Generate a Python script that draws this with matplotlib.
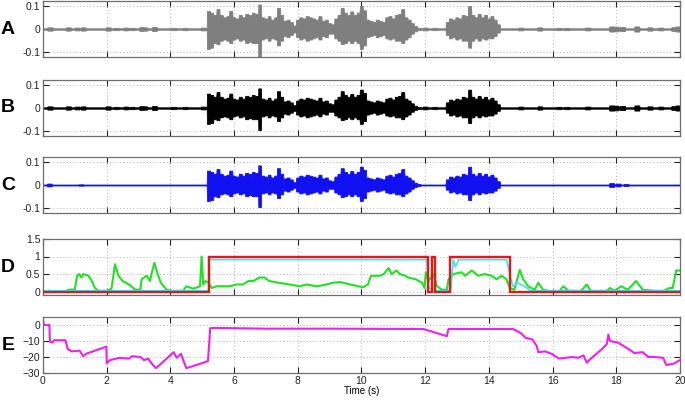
import numpy as np
import matplotlib
matplotlib.use("Agg")
import matplotlib.pyplot as plt

plt.rcParams['font.family'] = ['Liberation Sans', 'DejaVu Sans']

# ---------------- data ----------------
# speech envelope, segment 1 (0.1 s steps from 5.2 s), panel A units
seg1_start = 5.2
seg1_up = [0.077, 0.07, 0.06, 0.085, 0.06, 0.05, 0.055, 0.077, 0.05, 0.045,
           0.06, 0.05, 0.065, 0.06, 0.07, 0.065, 0.105, 0.05, 0.045, 0.055,
           0.04, 0.05, 0.09, 0.06, 0.035, 0.04, 0.03, 0.015, 0.04, 0.05,
           0.045, 0.055, 0.05, 0.045, 0.04, 0.055, 0.035, 0.04, 0.025, 0.02,
           0.045, 0.06, 0.09, 0.07, 0.06, 0.075, 0.06, 0.07, 0.098, 0.08,
           0.04, 0.035, 0.03, 0.04, 0.035, 0.03, 0.05, 0.055, 0.045, 0.06,
           0.065, 0.085, 0.05, 0.04, 0.025, 0.012, 0.005]
seg1_lo = [0.085, 0.08, 0.06, 0.065, 0.05, 0.045, 0.05, 0.06, 0.045, 0.04,
           0.05, 0.045, 0.06, 0.055, 0.06, 0.06, 0.118, 0.045, 0.04, 0.05,
           0.04, 0.045, 0.07, 0.05, 0.03, 0.035, 0.025, 0.015, 0.035, 0.045,
           0.04, 0.05, 0.045, 0.04, 0.035, 0.045, 0.03, 0.035, 0.02, 0.02,
           0.04, 0.05, 0.065, 0.06, 0.05, 0.06, 0.05, 0.06, 0.085, 0.07,
           0.035, 0.03, 0.025, 0.035, 0.03, 0.025, 0.04, 0.045, 0.04, 0.05,
           0.05, 0.06, 0.045, 0.035, 0.02, 0.01, 0.005]
# speech envelope, segment 2 (0.1 s steps from 12.7 s)
seg2_start = 12.7
seg2_up = [0.03, 0.045, 0.04, 0.05, 0.045, 0.06, 0.055, 0.098, 0.06, 0.05,
           0.065, 0.05, 0.06, 0.045, 0.055, 0.04, 0.02]
seg2_lo = [0.025, 0.04, 0.035, 0.045, 0.04, 0.05, 0.05, 0.08, 0.05, 0.04,
           0.05, 0.04, 0.045, 0.04, 0.04, 0.03, 0.015]

# background noise blobs (time s, amplitude)
blob_t_AB = [0.22, 0.79, 1.07, 1.26, 2.05, 2.3, 2.6, 2.8, 3.1, 3.2, 3.5, 4.1,
             4.46, 5.03, 12.0, 12.3, 15.0, 15.6, 16.2, 16.45, 17.1, 17.85,
             18.0, 18.2, 18.65, 19.05, 19.4, 19.8, 19.95]
blob_a_AB = [0.007, 0.007, 0.006, 0.007, 0.007, 0.005, 0.006, 0.005, 0.008,
             0.007, 0.009, 0.005, 0.005, 0.006, 0.006, 0.005, 0.006, 0.007,
             0.005, 0.005, 0.006, 0.011, 0.01, 0.009, 0.011, 0.007, 0.006,
             0.008, 0.011]
blob_t_C = [0.2, 1.2, 17.85, 18.05, 18.3]
blob_a_C = [0.006, 0.003, 0.008, 0.006, 0.004]

panel_gain = {'A': 1.0, 'B': 0.8, 'C': 0.8}
panel_base = {'A': 0.003, 'B': 0.003, 'C': 0.002}
panel_color = {'A': '#7f7f7f', 'B': '#000000', 'C': '#1010f0'}

# panel D
red_edges = [0, 5.2, 12.1, 12.2, 12.3, 12.78, 14.66, 20]
red_states = [0, 1, 0, 1, 0, 1, 0]
cyan_t = [0, 5.2, 5.2, 12.05, 12.12, 12.3, 12.8, 12.88, 12.95, 13.05, 14.55,
          14.75, 14.9, 15.2, 15.3, 20]
cyan_v = [0.02, 0.02, 0.91, 0.91, 0.1, 0.02, 0.02, 0.91, 0.7, 0.91, 0.91,
          0.15, 0.25, 0.1, 0.02, 0.02]
green_t = [0.0, 0.15, 0.2, 0.25, 0.7, 0.8, 1.0, 1.07, 1.13, 1.2, 1.26, 1.35,
           1.43, 1.53, 1.63, 1.74, 2.0, 2.15, 2.26, 2.37, 2.5, 2.7, 2.9, 3.05,
           3.1, 3.25, 3.36, 3.42, 3.5, 3.6, 3.7, 3.88, 4.0, 4.4, 4.5, 4.72,
           4.93, 4.98, 5.03, 5.1, 5.2, 5.3, 5.45, 5.87, 6.07, 6.28, 6.45, 6.6,
           6.8, 6.95, 7.1, 7.4, 7.75, 8.06, 8.27, 8.6, 8.9, 9.1, 9.33, 9.65,
           10.05, 10.2, 10.3, 10.58, 10.7, 10.85, 10.95, 11.1, 11.2, 11.37,
           11.47, 11.7, 11.9, 11.98, 12.02, 12.1, 12.26, 12.37, 12.53, 12.68,
           12.73, 12.89, 13.15, 13.25, 13.46, 13.67, 13.87, 14.08, 14.24,
           14.4, 14.55, 14.66, 14.8, 14.97, 15.08, 15.23, 15.44, 15.55, 15.7,
           15.97, 16.2, 16.34, 16.5, 16.9, 17.07, 17.2, 17.7, 17.8, 17.95,
           18.15, 18.36, 18.62, 18.83, 19.2, 19.5, 19.67, 19.77, 19.88, 20.0]
green_v = [0.0, 0.0, 0.03, 0.0, 0.0, 0.05, 0.06, 0.45, 0.5, 0.4, 0.5, 0.47,
           0.45, 0.3, 0.1, 0.02, 0.02, 0.08, 0.78, 0.45, 0.3, 0.2, 0.05, 0.05,
           0.35, 0.45, 0.3, 0.55, 0.82, 0.5, 0.25, 0.05, 0.02, 0.02, 0.15,
           0.08, 0.15, 1.0, 0.2, 0.3, 0.25, 0.1, 0.15, 0.15, 0.2, 0.2, 0.3,
           0.3, 0.4, 0.4, 0.3, 0.25, 0.2, 0.15, 0.2, 0.15, 0.2, 0.25, 0.27,
           0.2, 0.12, 0.2, 0.45, 0.45, 0.5, 0.67, 0.5, 0.6, 0.5, 0.45, 0.4,
           0.35, 0.25, 0.1, 0.55, 0.3, 0.5, 0.15, 0.05, 0.05, 0.35, 0.5, 0.55,
           0.45, 0.6, 0.45, 0.5, 0.45, 0.35, 0.45, 0.35, 0.1, 0.05, 0.62,
           0.35, 0.15, 0.05, 0.25, 0.05, 0.0, 0.0, 0.15, 0.02, 0.02, 0.2,
           0.02, 0.02, 0.1, 0.02, 0.15, 0.05, 0.3, 0.05, 0.02, 0.02, 0.1, 0.1,
           0.6, 0.6]

# panel E
mag_t = [0.0, 0.03, 0.2, 0.22, 0.3, 0.35, 0.7, 0.78, 0.9, 1.15, 1.26, 1.35,
         1.99, 2.0, 2.1, 2.3, 2.4, 2.7, 2.8, 3.06, 3.17, 3.3, 3.45, 3.55,
         4.1, 4.2, 4.33, 4.5, 4.97, 5.18, 5.25, 5.35, 7.0, 9.0, 11.95, 12.68,
         12.73, 14.76, 15.0, 15.15, 15.36, 15.5, 15.55, 15.76, 15.97, 16.2,
         16.6, 16.8, 16.97, 17.07, 17.2, 17.55, 17.7, 17.75, 17.8, 18.05,
         18.3, 18.46, 18.56, 18.83, 19.0, 19.2, 19.47, 19.57, 19.83, 19.94,
         20.0]
mag_v = [3, 0, 0, -10.4, -11, -9.5, -9.5, -15, -16.5, -16, -19.5, -18,
         -13.5, -24, -22, -21, -20.5, -21, -19.5, -20, -22, -21, -25, -27,
         -17, -20.5, -18, -27, -24, -22.5, -2, -1.8, -2.3, -2.3, -2.5, -7,
         -2.5, -2.5, -5, -8, -9, -13, -17, -16.5, -18, -21, -20, -20.5, -19,
         -23.5, -21, -15, -12, -6, -10, -11, -14, -16, -17.5, -17, -20, -20,
         -20.5, -25, -24, -22.5, -22]

x_ticks = [0, 2, 4, 6, 8, 10, 12, 14, 16, 18, 20]

# ---------------- figure ----------------
fig = plt.figure(figsize=(6.85, 4.01), dpi=100)
H = 401.0
L = 43 / 685.0
W = (680 - 43) / 685.0
tops = {'A': 1, 'B': 80, 'C': 157, 'D': 239, 'E': 317}
ph = 56


def make_ax(key):
    top = tops[key]
    ax = fig.add_axes([L, 1 - (top + ph) / H, W, ph / H])
    ax.set_xlim(0, 20)
    ax.set_xticks(x_ticks)
    ax.grid(True, linestyle=(0, (1, 3)), color='#9a9a9a', linewidth=0.6)
    ax.set_axisbelow(True)
    ax.tick_params(direction='in', length=4, width=0.8, top=True, right=True,
                   labelsize=7.5, colors='#222222', pad=2)
    for s in ax.spines.values():
        s.set_color('#6e6e6e')
        s.set_linewidth(0.9)
    fig.text(8 / 685.0, 1 - (top + ph / 2) / H, key, fontsize=14,
             fontweight='bold', ha='center', va='center')
    return ax


tgrid = np.arange(0, 20.0001, 0.01)


def envelope(key):
    base = panel_base[key]
    up = np.full_like(tgrid, base)
    lo = np.full_like(tgrid, base)
    bt = blob_t_C if key == 'C' else blob_t_AB
    ba = blob_a_C if key == 'C' else blob_a_AB
    for t0, a in zip(bt, ba):
        m = np.abs(tgrid - t0) < 0.08
        up[m] = np.maximum(up[m], a)
        lo[m] = np.maximum(lo[m], a)
    g = panel_gain[key]
    for start, su, sl in ((seg1_start, seg1_up, seg1_lo),
                          (seg2_start, seg2_up, seg2_lo)):
        for i in range(len(su)):
            c = start + 0.1 * i
            m = (tgrid >= c - 0.05) & (tgrid < c + 0.05)
            up[m] = su[i] * g
            lo[m] = sl[i] * g
    return up, lo


for key in ['A', 'B', 'C']:
    ax = make_ax(key)
    up, lo = envelope(key)
    ax.fill_between(tgrid, -lo, up, color=panel_color[key], linewidth=0.6,
                    edgecolor=panel_color[key])
    ax.set_ylim(-0.12, 0.12)
    ax.set_yticks([-0.1, 0, 0.1])
    ax.set_yticklabels(['-0.1', '0', '0.1'])
    ax.set_xticklabels([])

axD = make_ax('D')
axD.plot(green_t, green_v, color='#22e022', linewidth=1.5, zorder=2)
axD.plot(cyan_t, cyan_v, color='#40e4f4', linewidth=1.2, zorder=2.5)
axD.stairs(red_states, red_edges, baseline=None, color='#e01818',
           linewidth=1.7, zorder=3)
axD.set_ylim(-0.1, 1.5)
axD.set_yticks([0, 0.5, 1, 1.5])
axD.set_yticklabels(['0', '0.5', '1', '1.5'])
axD.set_xticklabels([])

axE = make_ax('E')
axE.plot(mag_t, mag_v, color='#f020f0', linewidth=1.5)
axE.set_ylim(-30, 5)
axE.set_yticks([-30, -20, -10, 0])
axE.set_xticklabels([str(v) for v in x_ticks])
axE.set_xlabel('Time (s)', fontsize=7, labelpad=0)

fig.savefig('out.png', dpi=100)
